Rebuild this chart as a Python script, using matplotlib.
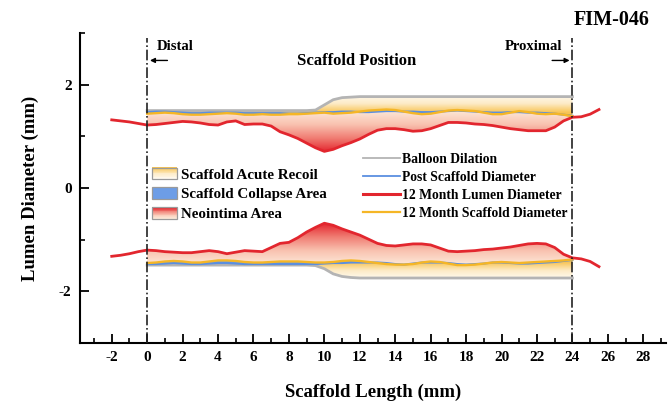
import numpy as np
import matplotlib
matplotlib.use('Agg')
import matplotlib.pyplot as plt
from matplotlib.colors import LinearSegmentedColormap
from matplotlib.patches import Polygon, Rectangle, Patch
from matplotlib.lines import Line2D
from matplotlib.legend_handler import HandlerBase
from matplotlib.ticker import MultipleLocator

plt.rcParams['font.family'] = ['Liberation Serif', 'DejaVu Serif']
plt.rcParams['font.weight'] = 'bold'
plt.rcParams['axes.labelweight'] = 'bold'
plt.rcParams['axes.unicode_minus'] = False

# ---- data (mm) ----
# 12 month lumen, sampled every 0.5 mm from -2 to 25.5
lumen_x = np.arange(-2, 26, 0.5)
lumen_up = [1.32, 1.30, 1.28, 1.25,
            1.22, 1.23, 1.25, 1.27, 1.29, 1.28, 1.26, 1.23, 1.22, 1.28,
            1.30, 1.23, 1.24, 1.24, 1.20, 1.09, 1.03, 0.96, 0.87, 0.78,
            0.71, 0.75, 0.82, 0.88, 0.95, 1.04, 1.12, 1.15, 1.15, 1.13,
            1.10, 1.11, 1.15, 1.21, 1.27, 1.27, 1.26, 1.24, 1.23, 1.21,
            1.18, 1.15, 1.13, 1.11, 1.11, 1.11, 1.18, 1.30, 1.37, 1.38,
            1.43, 1.52]
lumen_lo = [-1.32, -1.30, -1.27, -1.23,
            -1.20, -1.21, -1.23, -1.24, -1.25, -1.25, -1.23, -1.21, -1.23, -1.27,
            -1.24, -1.21, -1.22, -1.23, -1.15, -1.07, -1.05, -0.96, -0.85, -0.76,
            -0.68, -0.72, -0.79, -0.85, -0.91, -0.99, -1.07, -1.11, -1.12, -1.10,
            -1.08, -1.08, -1.10, -1.16, -1.22, -1.23, -1.22, -1.21, -1.19, -1.18,
            -1.16, -1.14, -1.11, -1.08, -1.07, -1.08, -1.15, -1.28, -1.35, -1.37,
            -1.42, -1.52]

# scaffold segment, sampled every 0.5 mm from 0 to 24
seg_x = np.arange(0, 24.5, 0.5)
balloon_up = [1.50, 1.50, 1.50, 1.50, 1.50, 1.50, 1.50, 1.50, 1.50, 1.50,
              1.50, 1.50, 1.50, 1.50, 1.50, 1.50, 1.50, 1.50, 1.50, 1.51,
              1.61, 1.71, 1.75, 1.76, 1.77, 1.77, 1.77, 1.77, 1.77, 1.77,
              1.77, 1.77, 1.77, 1.77, 1.77, 1.77, 1.77, 1.77, 1.77, 1.77,
              1.77, 1.77, 1.77, 1.77, 1.77, 1.77, 1.77, 1.77, 1.77]
balloon_lo = [-1.49, -1.49, -1.49, -1.49, -1.49, -1.49, -1.49, -1.49, -1.49, -1.49,
              -1.49, -1.49, -1.49, -1.49, -1.49, -1.49, -1.49, -1.49, -1.49, -1.50,
              -1.56, -1.66, -1.71, -1.73, -1.74, -1.74, -1.74, -1.74, -1.74, -1.74,
              -1.74, -1.74, -1.74, -1.74, -1.74, -1.74, -1.74, -1.74, -1.74, -1.74,
              -1.74, -1.74, -1.74, -1.74, -1.74, -1.74, -1.74, -1.74, -1.74]
post_up = [1.47, 1.48, 1.48, 1.47, 1.46, 1.45, 1.45, 1.46, 1.46, 1.46,
           1.46, 1.45, 1.45, 1.45, 1.45, 1.45, 1.44, 1.44, 1.45, 1.46,
           1.47, 1.47, 1.48, 1.48, 1.47, 1.47, 1.48, 1.49, 1.49, 1.48,
           1.48, 1.47, 1.47, 1.48, 1.49, 1.50, 1.49, 1.48, 1.47, 1.46,
           1.46, 1.47, 1.47, 1.46, 1.46, 1.45, 1.44, 1.42, 1.40]
post_lo = [-1.47, -1.47, -1.46, -1.45, -1.46, -1.47, -1.47, -1.46, -1.45, -1.45,
           -1.46, -1.47, -1.47, -1.47, -1.47, -1.47, -1.47, -1.47, -1.47, -1.47,
           -1.46, -1.45, -1.45, -1.44, -1.44, -1.44, -1.44, -1.45, -1.47, -1.48,
           -1.46, -1.44, -1.44, -1.44, -1.45, -1.47, -1.48, -1.47, -1.46, -1.44,
           -1.44, -1.45, -1.46, -1.46, -1.45, -1.44, -1.43, -1.41, -1.39]
scaf12_up = [1.44, 1.45, 1.46, 1.45, 1.43, 1.42, 1.42, 1.43, 1.44, 1.45,
             1.44, 1.42, 1.42, 1.43, 1.42, 1.42, 1.43, 1.43, 1.44, 1.45,
             1.46, 1.44, 1.45, 1.46, 1.48, 1.50, 1.51, 1.52, 1.51, 1.48,
             1.45, 1.43, 1.44, 1.47, 1.50, 1.51, 1.50, 1.49, 1.46, 1.43,
             1.43, 1.46, 1.49, 1.47, 1.44, 1.43, 1.44, 1.42, 1.39]
scaf12_lo = [-1.45, -1.44, -1.42, -1.41, -1.42, -1.44, -1.44, -1.42, -1.40, -1.40,
             -1.41, -1.43, -1.44, -1.44, -1.43, -1.42, -1.42, -1.42, -1.43, -1.44,
             -1.44, -1.43, -1.41, -1.40, -1.41, -1.43, -1.45, -1.47, -1.48, -1.48,
             -1.47, -1.44, -1.42, -1.43, -1.46, -1.49, -1.49, -1.48, -1.46, -1.44,
             -1.43, -1.44, -1.45, -1.44, -1.43, -1.42, -1.41, -1.40, -1.38]

scaffold_ends = [0, 24]

c_balloon = '#b4b4b4'
c_post = '#5b8fe0'
c_lumen = '#e2262e'
c_scaf = '#f5b626'
c_collapse = '#6d9de6'

recoil_cmap = LinearSegmentedColormap.from_list('recoil', ['#fffaf0', '#fdebc6', '#f8c453'])
neo_cmap = LinearSegmentedColormap.from_list('neo', ['#fde9d8', '#f9c3b1', '#f07c72', '#e3222b'])


def gradient_fill(ax, x, y1, y2, cmap, lo, hi, zorder):
    # fill between y1 and y2 with a colour depending on |y|
    x = np.asarray(x)
    verts = np.column_stack([np.concatenate([x, x[::-1]]),
                             np.concatenate([np.asarray(y1), np.asarray(y2)[::-1]])])
    poly = Polygon(verts, closed=True, facecolor='none', edgecolor='none')
    ax.add_patch(poly)
    yy = np.linspace(-2, 2, 500)
    v = np.clip((np.abs(yy) - lo) / (hi - lo), 0, 1)
    img = np.tile(v[:, None], (1, 2))
    im = ax.imshow(img, extent=[x[0], x[-1], -2, 2], origin='lower', aspect='auto',
                   cmap=cmap, vmin=0, vmax=1, interpolation='bilinear', zorder=zorder)
    im.set_clip_path(poly)


class GradientHandler(HandlerBase):
    def __init__(self, cmap):
        super().__init__()
        self.cmap = cmap

    def create_artists(self, legend, orig_handle, xdescent, ydescent, width, height, fontsize, trans):
        n = 14
        arts = []
        for i in range(n):
            c = self.cmap(i / (n - 1))
            arts.append(Rectangle((-xdescent, -ydescent + height * i / n), width, height / n + 0.2,
                                  facecolor=c, edgecolor='none', transform=trans))
        arts.append(Rectangle((-xdescent, -ydescent), width, height, fill=False,
                              edgecolor='#9a9a9a', lw=0.9, transform=trans))
        return arts


fig = plt.figure(figsize=(6.71, 4.08), dpi=100)
ax = fig.add_axes([0.119, 0.159, 0.874, 0.760])

i0 = list(lumen_x).index(0)
i1 = list(lumen_x).index(24) + 1

# areas
gradient_fill(ax, seg_x, balloon_up, post_up, recoil_cmap, 1.80, 1.45, 1)
gradient_fill(ax, seg_x, balloon_lo, post_lo, recoil_cmap, 1.77, 1.44, 1)
gradient_fill(ax, seg_x, lumen_up[i0:i1], scaf12_up, neo_cmap, 1.50, 0.68, 1)
gradient_fill(ax, seg_x, lumen_lo[i0:i1], scaf12_lo, neo_cmap, 1.50, 0.68, 1)
ax.fill_between(seg_x, post_up, scaf12_up, where=np.array(scaf12_up) < np.array(post_up),
                interpolate=True, color=c_collapse, lw=0, zorder=2)
ax.fill_between(seg_x, post_lo, scaf12_lo, where=np.array(scaf12_lo) > np.array(post_lo),
                interpolate=True, color=c_collapse, lw=0, zorder=2)

# lines
for bal in (balloon_up, balloon_lo):
    ax.plot(seg_x, bal, color=c_balloon, lw=2.0, zorder=3)
for p in (post_up, post_lo):
    ax.plot(seg_x, p, color=c_post, lw=1.5, zorder=3)
for s in (scaf12_up, scaf12_lo):
    ax.plot(seg_x, s, color=c_scaf, lw=1.7, zorder=4)
for lu in (lumen_up, lumen_lo):
    ax.plot(lumen_x, lu, color=c_lumen, lw=2.0, zorder=5)

# scaffold ends
for xe in scaffold_ends:
    ax.axvline(xe, ymin=0, ymax=0.985, color='#222222', lw=1.2, ls='-.', zorder=6)

ax.annotate('', xy=(0, 2.47), xytext=(1.3, 2.47),
            arrowprops=dict(arrowstyle='-|>', color='black', lw=1.0, mutation_scale=7))
ax.annotate('', xy=(24, 2.47), xytext=(22.7, 2.47),
            arrowprops=dict(arrowstyle='-|>', color='black', lw=1.0, mutation_scale=7))
ax.text(0.55, 2.74, 'Distal', fontsize=10.5, ha='left', va='center')
ax.text(23.4, 2.74, 'Proximal', fontsize=10.5, ha='right', va='center')
ax.text(11.8, 2.45, 'Scaffold Position', fontsize=12, ha='center', va='center')
fig.text(0.911, 0.951, 'FIM-046', fontsize=14.5, ha='center', va='center')

ax.set_xlim(-3.8, 29.3)
ax.set_ylim(-3, 3)
ax.xaxis.set_major_locator(MultipleLocator(2))
ax.xaxis.set_minor_locator(MultipleLocator(1))
ax.yaxis.set_major_locator(MultipleLocator(2))
ax.yaxis.set_minor_locator(MultipleLocator(1))
ax.tick_params(which='major', direction='in', length=6.5, width=1.3, labelsize=11, pad=6)
ax.tick_params(which='minor', direction='in', length=3.5, width=1.2)
for sp in ('top', 'right'):
    ax.spines[sp].set_visible(False)
for sp in ('left', 'bottom'):
    ax.spines[sp].set_linewidth(1.5)
ax.set_xlabel('Scaffold Length (mm)', fontsize=13.5, labelpad=14)
ax.set_ylabel('Lumen Diameter (mm)', fontsize=13.5, labelpad=14)

# legends
h_recoil = Patch(label='Scaffold Acute Recoil')
h_collapse = Patch(facecolor=c_collapse, edgecolor='#9a9a9a', lw=0.9, label='Scaffold Collapse Area')
h_neo = Patch(label='Neointima Area')
leg1 = ax.legend(handles=[h_recoil, h_collapse, h_neo], loc='upper left',
                 bbox_to_anchor=(0.123, 0.566), frameon=False, fontsize=10.8,
                 handlelength=1.65, handleheight=0.8, labelspacing=0.39, handletextpad=0.3,
                 borderpad=0, borderaxespad=0,
                 handler_map={h_recoil: GradientHandler(recoil_cmap),
                              h_neo: GradientHandler(neo_cmap)})
ax.add_artist(leg1)

line_handles = [Line2D([], [], color=c_balloon, lw=1.3, label='Balloon Dilation'),
                Line2D([], [], color=c_post, lw=1.3, label='Post Scaffold Diameter'),
                Line2D([], [], color=c_lumen, lw=2.2, label='12 Month Lumen Diameter'),
                Line2D([], [], color=c_scaf, lw=1.6, label='12 Month Scaffold Diameter')]
ax.legend(handles=line_handles, loc='upper left', bbox_to_anchor=(0.483, 0.613),
          frameon=False, fontsize=9.8, handlelength=2.7, labelspacing=0.36,
          handletextpad=0.15, borderpad=0, borderaxespad=0)

fig.savefig('out.png', dpi=100)
